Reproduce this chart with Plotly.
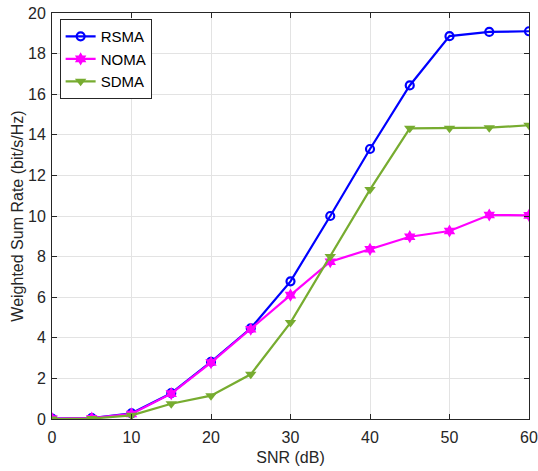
import plotly.graph_objects as go

snr = [0, 5, 10, 15, 20, 25, 30, 35, 40, 45, 50, 55, 60]
rsma = [0.02, 0.05, 0.28, 1.27, 2.82, 4.47, 6.78, 10.0, 13.3, 16.43, 18.86, 19.07, 19.1]
noma = [0.02, 0.04, 0.25, 1.25, 2.78, 4.42, 6.1, 7.75, 8.36, 8.98, 9.26, 10.05, 10.03]
sdma = [0.0, 0.02, 0.18, 0.75, 1.15, 2.2, 4.75, 8.0, 11.3, 14.32, 14.32, 14.35, 14.47]

x_ticks = [0, 10, 20, 30, 40, 50, 60]
y_ticks = [0, 2, 4, 6, 8, 10, 12, 14, 16, 18, 20]

fig = go.Figure()
fig.add_trace(go.Scatter(x=snr, y=rsma, name="RSMA", mode="lines+markers",
                         line=dict(color="#0000FF", width=2.2),
                         marker=dict(symbol="circle-open", size=8, color="#0000FF", line=dict(width=2.2))))
fig.add_trace(go.Scatter(x=snr, y=noma, name="NOMA", mode="lines+markers",
                         line=dict(color="#FF00FF", width=2.2),
                         marker=dict(symbol="hexagram", size=10, color="#FF00FF")))
fig.add_trace(go.Scatter(x=snr, y=sdma, name="SDMA", mode="lines+markers",
                         line=dict(color="#77AC30", width=2.2),
                         marker=dict(symbol="triangle-down", size=10, color="#77AC30")))

axis_common = dict(showline=True, linecolor="#262626", linewidth=1, mirror="ticks",
                   ticks="inside", ticklen=5, tickcolor="#262626",
                   showgrid=True, gridcolor="#E3E3E3", gridwidth=1, zeroline=False,
                   automargin=False,
                   tickfont=dict(family="Liberation Sans, Arial", size=16, color="#262626"))

fig.update_layout(
    width=538, height=471,
    margin=dict(l=52, r=9, t=13, b=52, autoexpand=False),
    paper_bgcolor="white", plot_bgcolor="white",
    font=dict(family="Liberation Sans, Arial", size=16, color="#262626"),
    showlegend=True,
    legend=dict(x=0.016, y=0.985, xanchor="left", yanchor="top",
                bgcolor="white", bordercolor="#262626", borderwidth=1,
                font=dict(size=15, color="black"), itemwidth=30,
                tracegroupgap=0),
    xaxis=dict(range=[0, 60], tickvals=x_ticks, ticklabelstandoff=4,
               title=dict(text="SNR (dB)", standoff=6, font=dict(size=16)), **axis_common),
    yaxis=dict(range=[0, 20], tickvals=y_ticks, ticklabelstandoff=2,
               title=dict(text="Weighted Sum Rate (bit/s/Hz)", standoff=0, font=dict(size=16)), **axis_common),
)

fig.write_html("out.html", config={"displayModeBar": False},
               post_script="document.body.style.margin='0';")
